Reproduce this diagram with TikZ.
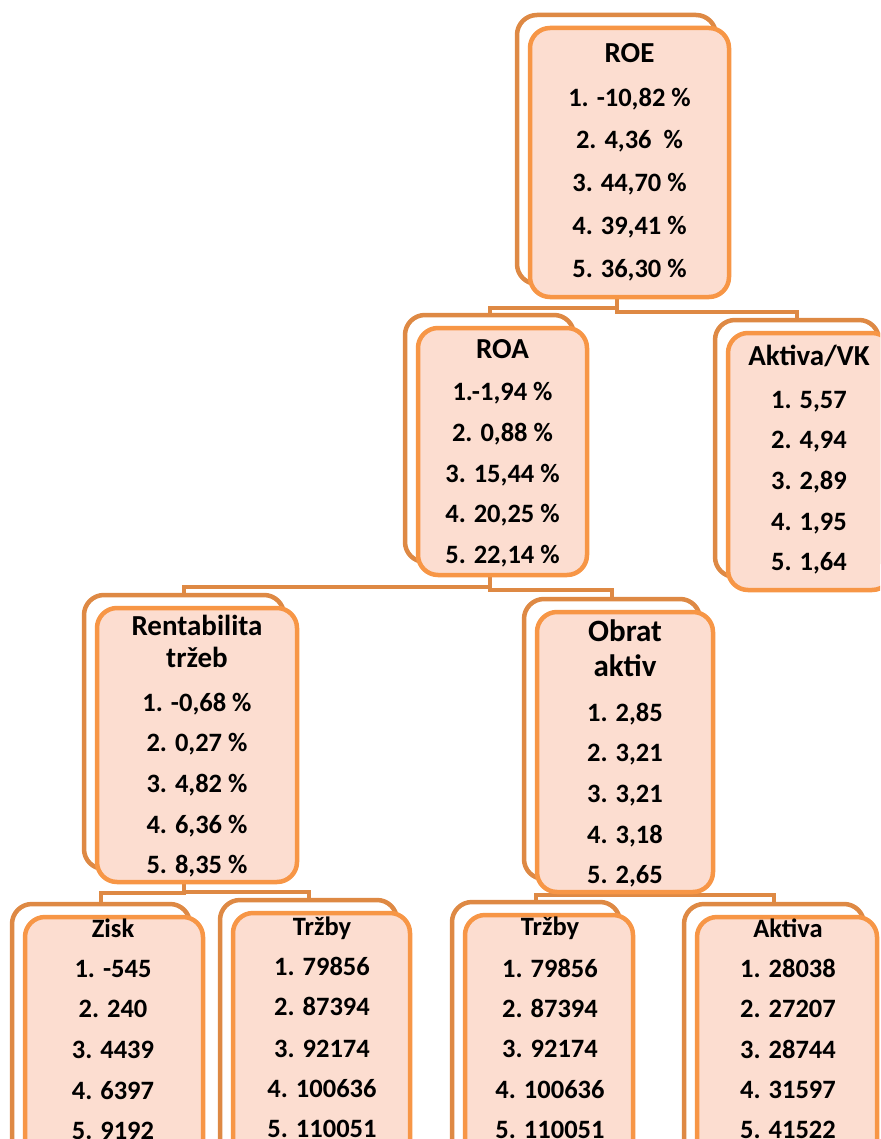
\documentclass[tikz,border=0pt]{standalone}
\usepackage{fontspec}
\setmainfont{Carlito}
\usetikzlibrary{backgrounds}
\definecolor{fillc}{HTML}{FCDDD0}
\definecolor{frontc}{HTML}{F79646}
\definecolor{backc}{HTML}{DE8944}
\newcommand\mytitlefont{\fontsize{29}{30}\selectfont}
\newcommand\myobratfont{\fontsize{31}{32}\selectfont}
\newcommand\twobox[5]{%
  \node[backbox, minimum width=#4, minimum height=#5] (#1b) at (#2-13,#3-13) {};
  \node[frontbox, minimum width=#4, minimum height=#5] (#1) at (#2,#3) {};}
\newcommand\boxlines[3]{\foreach \myY/\myT [count=\i] in {#3}{\node[txt] (#1-\i) at (#2,\myY) {\myT};}}
\begin{document}
\begin{tikzpicture}[x=1pt,y=-1pt,
  frontbox/.style={draw=frontc, fill=fillc, line width=4.5pt, rounded corners=20pt, inner sep=0pt, outer sep=0pt},
  backbox/.style={draw=backc, fill=white, line width=4.5pt, rounded corners=20pt, inner sep=0pt, outer sep=0pt},
  conn/.style={draw=backc, line width=4pt},
  txt/.style={font=\bfseries\fontsize{26.5}{28}\selectfont, anchor=base, inner sep=0pt}]
\useasboundingbox (0,0) rectangle (880,1139);
\clip (0,0) rectangle (880,1139);
% boxes
\twobox{roe}{629.5}{162.5}{199}{269}
\twobox{roa}{502.5}{451.5}{169}{247}
\twobox{akvk}{810}{461.5}{164}{257}
\twobox{rent}{197}{745}{200}{274}
\twobox{obrat}{625}{752}{176}{280}
\twobox{zisk}{114}{1047}{178}{260}
\twobox{trzA}{321.5}{1043}{177}{260}
\twobox{trzB}{549}{1045}{168}{260}
\twobox{akt}{787}{1047}{180}{260}
% connectors
\begin{pgfonlayer}{background}
\draw[conn] (roeb.south) -- ++(0,24) -| (roab.north);
\draw[conn] (roeb.south) -- ++(0,28) -| (akvkb.north);
\draw[conn] (roab.south) -- ++(0,25) -| (rentb.north);
\draw[conn] (roab.south) -- ++(0,28) -| (obratb.north);
\draw[conn] (rentb.south) -- ++(0,24) -| (ziskb.north);
\draw[conn] (rentb.south) -- ++(0,23) -| (trzAb.north);
\draw[conn] (obratb.south) -- ++(0,16) -| (trzBb.north);
\draw[conn] (obratb.south) -- ++(0,16) -| (aktb.north);
\end{pgfonlayer}
% texts
\boxlines{roeT}{629.5}{63/{\mytitlefont ROE}, 107/{1. -10,82 \%}, 149/{2. 4,36\ \ \%}, 192/{3. 44,70 \%}, 235/{4. 39,41 \%}, 278/{5. 36,30 \%}}
\boxlines{roaT}{502.5}{358/{\mytitlefont ROA}, 400/{1.-1,94 \%}, 441/{2. 0,88 \%}, 482/{3. 15,44 \%}, 522/{4. 20,25 \%}, 563/{5. 22,14 \%}}
\boxlines{akvkT}{809}{365/{\mytitlefont Aktiva/VK}, 408/{1. 5,57}, 448/{2. 4,94}, 489/{3. 2,89}, 530/{4. 1,95}, 570/{5. 1,64}}
\boxlines{rentT}{197}{635/{\mytitlefont Rentabilita}, 667/{\mytitlefont tržeb}, 711/{1. -0,68 \%}, 751/{2. 0,27 \%}, 792/{3. 4,82 \%}, 833/{4. 6,36 \%}, 873/{5. 8,35 \%}}
\boxlines{obratT}{625}{641/{\myobratfont Obrat}, 676/{\myobratfont aktiv}, 721/{1. 2,85}, 761/{2. 3,21}, 802/{3. 3,21}, 843/{4. 3,18}, 883/{5. 2,65}}
\boxlines{ziskT}{113}{937/{Zisk}, 977/{1. -545}, 1017/{2. 240}, 1058/{3. 4439}, 1099/{4. 6397}, 1139/{5. 9192}}
\boxlines{trzAT}{322}{935/{Tržby}, 975/{1. 79856}, 1015/{2. 87394}, 1057/{3. 92174}, 1097/{4. 100636}, 1137/{5. 110051}}
\boxlines{trzBT}{550}{935/{Tržby}, 977/{1. 79856}, 1017/{2. 87394}, 1057/{3. 92174}, 1098/{4. 100636}, 1138/{5. 110051}}
\boxlines{aktT}{788}{937/{Aktiva}, 977/{1. 28038}, 1017/{2. 27207}, 1058/{3. 28744}, 1098/{4. 31597}, 1138/{5. 41522}}
\end{tikzpicture}
\end{document}
